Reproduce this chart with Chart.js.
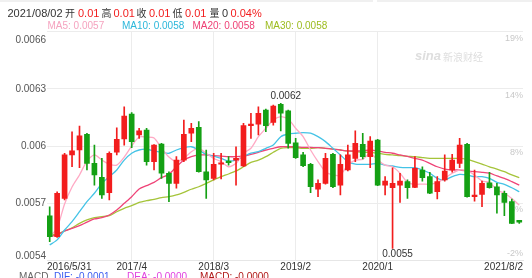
<!DOCTYPE html>
<html>
<head>
<meta charset="utf-8">
<script src="https://cdn.jsdelivr.net/npm/chart.js@4.4.0/dist/chart.umd.min.js"></script>
<style>
  html, body { margin: 0; padding: 0; background: #fff; overflow: hidden; }
  #wrap { position: relative; width: 532px; height: 278px; overflow: hidden; font-family: 'Liberation Sans', 'Noto Sans CJK SC', sans-serif; }
  #wrap canvas { position: absolute; left: 0; top: 0; }
  .t { position: absolute; white-space: nowrap; }
  .bar { position: absolute; top: 0; height: 2px; background: #f0f0f0; }
</style>
</head>
<body>
<div id="wrap">
  <canvas id="kline" width="532" height="278"></canvas>
  <div class="bar" style="left:0;width:373px"></div>
  <div class="bar" style="left:377px;width:155px"></div>
  <div id="head"></div>
</div>
<script>
// 月K数据 2016/5 - 2021/8
const candleOpen = [0.005634, 0.005524, 0.005725, 0.005953, 0.005979, 0.006061, 0.005909, 0.005836, 0.005755, 0.005967,
  0.006037, 0.006168, 0.006058, 0.006084, 0.005918, 0.006010, 0.005857, 0.005804, 0.005926, 0.006067,
  0.006098, 0.005865, 0.005830, 0.005904, 0.005921, 0.005926, 0.005895, 0.006107, 0.006114, 0.006189,
  0.006124, 0.006219, 0.006184, 0.006017, 0.005953, 0.005904, 0.005774, 0.005804, 0.005956, 0.005795,
  0.005874, 0.005935, 0.006009, 0.005944, 0.006031, 0.005795, 0.005781, 0.005795, 0.005813, 0.005783,
  0.005874, 0.005839, 0.005760, 0.005822, 0.005874, 0.005909, 0.006009, 0.005734, 0.005746, 0.005807,
  0.005786, 0.005752, 0.005708, 0.005610];
const candleHigh = [0.005681, 0.005760, 0.005962, 0.006075, 0.006105, 0.006067, 0.006005, 0.005935, 0.005970, 0.006096,
  0.006206, 0.006175, 0.006093, 0.006093, 0.006008, 0.006014, 0.005865, 0.005944, 0.006136, 0.006119,
  0.006128, 0.005979, 0.005962, 0.005962, 0.005944, 0.005996, 0.006119, 0.006172, 0.006206, 0.006194,
  0.006215, 0.006224, 0.006189, 0.006040, 0.005967, 0.005909, 0.005822, 0.005962, 0.005962, 0.005953,
  0.006005, 0.006079, 0.006067, 0.006049, 0.006035, 0.005839, 0.005886, 0.005857, 0.005822, 0.005944,
  0.005891, 0.005862, 0.005839, 0.005953, 0.005956, 0.006040, 0.006014, 0.005874, 0.005816, 0.005862,
  0.005804, 0.005764, 0.005722, 0.005610];
const candleLow = [0.005498, 0.005520, 0.005717, 0.005891, 0.005886, 0.005874, 0.005795, 0.005725, 0.005717, 0.005953,
  0.006005, 0.005991, 0.006040, 0.005900, 0.005874, 0.005830, 0.005708, 0.005778, 0.005918, 0.006023,
  0.005862, 0.005725, 0.005822, 0.005827, 0.005900, 0.005795, 0.005891, 0.006040, 0.006058, 0.006075,
  0.006110, 0.006079, 0.005988, 0.005935, 0.005891, 0.005755, 0.005734, 0.005799, 0.005781, 0.005743,
  0.005869, 0.005918, 0.005932, 0.005886, 0.005792, 0.005743, 0.005463, 0.005704, 0.005725, 0.005781,
  0.005816, 0.005750, 0.005722, 0.005816, 0.005862, 0.005886, 0.005732, 0.005711, 0.005681, 0.005778,
  0.005647, 0.005634, 0.005592, 0.005594];
const candleClose = [0.005524, 0.005752, 0.005953, 0.005974, 0.006054, 0.005909, 0.005848, 0.005743, 0.005962, 0.006035,
  0.006157, 0.006023, 0.006079, 0.005918, 0.006005, 0.005857, 0.005804, 0.005926, 0.006061, 0.006093,
  0.005865, 0.005822, 0.005904, 0.005912, 0.005912, 0.005935, 0.006107, 0.006115, 0.006172, 0.006107,
  0.006210, 0.006172, 0.006014, 0.005939, 0.005897, 0.005786, 0.005804, 0.005935, 0.005786, 0.005904,
  0.005953, 0.006014, 0.005944, 0.006026, 0.005795, 0.005816, 0.005804, 0.005816, 0.005781, 0.005883,
  0.005834, 0.005752, 0.005813, 0.005869, 0.005926, 0.006005, 0.005734, 0.005743, 0.005804, 0.005781,
  0.005743, 0.005704, 0.005594, 0.005600];

const ma5 = [0.005522, 0.005570, 0.005696, 0.005785, 0.005848, 0.005921, 0.005953, 0.005926, 0.005905, 0.005900,
  0.005942, 0.006000, 0.006047, 0.006047, 0.006042, 0.005989, 0.005942, 0.005918, 0.005935, 0.005970,
  0.005988, 0.005962, 0.005935, 0.005918, 0.005891, 0.005909, 0.005962, 0.005988, 0.006049, 0.006093,
  0.006136, 0.006154, 0.006142, 0.006093, 0.006049, 0.005979, 0.005918, 0.005865, 0.005848, 0.005848,
  0.005900, 0.005926, 0.005930, 0.005962, 0.005926, 0.005900, 0.005891, 0.005857, 0.005809, 0.005799,
  0.005800, 0.005799, 0.005809, 0.005830, 0.005857, 0.005874, 0.005869, 0.005848, 0.005816, 0.005809,
  0.005769, 0.005752, 0.005725, 0.005690];
const ma10 = [0.005480, 0.005507, 0.005559, 0.005603, 0.005655, 0.005708, 0.005752, 0.005804, 0.005839, 0.005874,
  0.005926, 0.005962, 0.005979, 0.005983, 0.005974, 0.005967, 0.005962, 0.005979, 0.005991, 0.005996,
  0.005979, 0.005956, 0.005947, 0.005935, 0.005921, 0.005926, 0.005944, 0.005962, 0.005970, 0.005988,
  0.006005, 0.006049, 0.006063, 0.006067, 0.006070, 0.006067, 0.006049, 0.006023, 0.005988, 0.005953,
  0.005918, 0.005905, 0.005904, 0.005904, 0.005909, 0.005900, 0.005895, 0.005888, 0.005886, 0.005886,
  0.005874, 0.005857, 0.005830, 0.005822, 0.005839, 0.005851, 0.005848, 0.005839, 0.005839, 0.005830,
  0.005809, 0.005799, 0.005781, 0.005760];
const ma20 = [0.005525, 0.005533, 0.005554, 0.005568, 0.005582, 0.005600, 0.005617, 0.005624, 0.005638, 0.005664,
  0.005699, 0.005734, 0.005774, 0.005792, 0.005809, 0.005834, 0.005851, 0.005891, 0.005926, 0.005944,
  0.005953, 0.005953, 0.005949, 0.005947, 0.005944, 0.005944, 0.005947, 0.005956, 0.005967, 0.005979,
  0.005988, 0.005996, 0.005996, 0.005996, 0.005993, 0.005993, 0.005991, 0.005988, 0.005984, 0.005979,
  0.005974, 0.005974, 0.005974, 0.005979, 0.005974, 0.005967, 0.005962, 0.005953, 0.005945, 0.005935,
  0.005926, 0.005909, 0.005891, 0.005879, 0.005874, 0.005874, 0.005869, 0.005865, 0.005862, 0.005857,
  0.005843, 0.005830, 0.005813, 0.005795];
const ma30 = [0.005533, 0.005537, 0.005554, 0.005571, 0.005594, 0.005612, 0.005624, 0.005629, 0.005634, 0.005655,
  0.005673, 0.005687, 0.005704, 0.005713, 0.005720, 0.005729, 0.005734, 0.005743, 0.005757, 0.005773,
  0.005786, 0.005804, 0.005822, 0.005839, 0.005853, 0.005869, 0.005891, 0.005914, 0.005926, 0.005944,
  0.005967, 0.005988, 0.005992, 0.005991, 0.005988, 0.005988, 0.005991, 0.005988, 0.005984, 0.005979,
  0.005974, 0.005970, 0.005967, 0.005967, 0.005962, 0.005956, 0.005953, 0.005949, 0.005946, 0.005944,
  0.005939, 0.005935, 0.005935, 0.005935, 0.005935, 0.005935, 0.005930, 0.005918, 0.005905, 0.005891,
  0.005879, 0.005865, 0.005848, 0.005834];

// 坐标轴刻度
const xTickIndex = [0, 11, 22, 33, 44, 63];
const xTickLabels = ['2016/5/31', '2017/4', '2018/3', '2019/2', '2020/1', '2021/8/2'];
const yTickValues = [0.0054, 0.0057, 0.006, 0.0063, 0.0066];
const yTickLabels = ['0.0054', '0.0057', '0.006', '0.0063', '0.0066'];
const pctTickLabels = ['-2%', '3%', '8%', '14%', '19%'];

const RED = '#f21d1d';
const GREEN = '#14a014';
const maColors = ['#ffa9c4', '#44c3e6', '#ef4478', '#a5c43a'];
const maTextColors = ['#f5a3bf', '#2bb7da', '#ee3f74', '#9cbc1f'];

// 顶部信息栏
const last = candleClose.length - 1;
const headItems = [
    ['2021/08/02', 7.5, '#333', 11], ['开', 65, '#333', 10], [candleOpen[last].toFixed(2), 78, RED, 11],
    ['高', 101.5, '#333', 10], [candleHigh[last].toFixed(2), 113.5, RED, 11],
    ['收', 136.5, '#333', 10], [candleClose[last].toFixed(2), 149, RED, 11],
    ['低', 172.5, '#333', 10], [candleLow[last].toFixed(2), 185, RED, 11],
    ['量', 209.5, '#333', 10], ['0', 222, '#333', 11], ['0.04%', 230.5, RED, 11]
];
const maItems = [
    ['MA5: ' + ma5[last].toFixed(4), 47.5], ['MA10: ' + ma10[last].toFixed(4), 122],
    ['MA20: ' + ma20[last].toFixed(4), 192.5], ['MA30: ' + ma30[last].toFixed(4), 265]
];
const macdItems = [
    ['MACD', 19, '#666'], ['DIF: -0.0001', 54, '#3a5cf0'],
    ['DEA: -0.0000', 127, '#e040e0'], ['MACD: -0.0000', 200, '#b01818']
];

const head = document.getElementById('head');
function addText(text, left, top, color, size) {
    const el = document.createElement('div');
    el.className = 't';
    el.textContent = text;
    el.style.cssText = 'left:' + left + 'px;top:' + top + 'px;color:' + color + ';font-size:' + size + 'px;line-height:' + size + 'px';
    head.appendChild(el);
}
headItems.forEach(it => addText(it[0], it[1], it[3] === 11 ? 8.2 : 8.7, it[2], it[3]));
maItems.forEach((it, i) => addText(it[0], it[1], 20.5, maTextColors[i], 10));
macdItems.forEach(it => addText(it[0], it[1], 272, it[2], 10));

Chart.defaults.font.family = "'Liberation Sans', 'Noto Sans CJK SC', sans-serif";

// 最高/最低价标注
const extremesPlugin = {
    id: 'extremes',
    afterDatasetsDraw(chart) {
        const { ctx } = chart;
        const x = chart.scales.x, y = chart.scales.y;
        let hi = 0, lo = 0;
        candleHigh.forEach((v, i) => { if (v > candleHigh[hi]) hi = i; });
        candleLow.forEach((v, i) => { if (v < candleLow[lo]) lo = i; });
        ctx.save();
        ctx.font = "10px 'Liberation Sans', sans-serif";
        ctx.fillStyle = '#333';
        ctx.textAlign = 'center';
        ctx.textBaseline = 'middle';
        ctx.fillText(candleHigh[hi].toFixed(4), x.getPixelForValue(hi) + 5, y.getPixelForValue(candleHigh[hi]) - 7);
        ctx.fillText(candleLow[lo].toFixed(4), x.getPixelForValue(lo) + 5, y.getPixelForValue(candleLow[lo]) + 6);
        ctx.restore();
    }
};

// 水印
const watermarkPlugin = {
    id: 'watermark',
    beforeDatasetsDraw(chart) {
        const { ctx } = chart;
        ctx.save();
        ctx.fillStyle = '#dedede';
        ctx.textBaseline = 'middle';
        ctx.font = "italic bold 13px 'Liberation Sans', sans-serif";
        ctx.fillText('sina', 415, 56);
        ctx.font = "10px 'Noto Sans CJK SC', sans-serif";
        ctx.fillText('新浪财经', 443, 57);
        ctx.restore();
    }
};

const candleColor = ctx => candleClose[ctx.dataIndex] >= candleOpen[ctx.dataIndex] ? RED : GREEN;
const bodies = candleOpen.map((o, i) => ({ x: i, y: [o, candleClose[i]] }));
const wicks = candleLow.map((l, i) => ({ x: i, y: [l, candleHigh[i]] }));
const maSeries = [ma5, ma10, ma20, ma30];
const maLabels = ['MA5', 'MA10', 'MA20', 'MA30'];

function shiftLabel(label, i, n) {
    if (i === n - 1) return ['', '', label];
    if (i === 0) return [label, ''];
    return label;
}

new Chart(document.getElementById('kline').getContext('2d'), {
    type: 'bar',
    data: {
        datasets: [
            {
                label: 'body',
                data: bodies,
                backgroundColor: candleColor,
                borderWidth: 0,
                barThickness: 5,
                minBarLength: 1,
                grouped: false
            },
            {
                label: 'wick',
                data: wicks,
                backgroundColor: candleColor,
                borderWidth: 0,
                barThickness: 1,
                grouped: false
            }
        ].concat(maSeries.map((s, k) => ({
            type: 'line',
            label: maLabels[k],
            data: s.map((v, i) => ({ x: i, y: v })),
            borderColor: maColors[k],
            borderWidth: 1.3,
            pointRadius: 0,
            tension: 0.25,
            fill: false
        })))
    },
    options: {
        responsive: false,
        animation: false,
        layout: { padding: { top: 31.7, left: 0, right: 0, bottom: 0 } },
        plugins: {
            legend: { display: false },
            tooltip: { enabled: false },
            title: { display: false }
        },
        scales: {
            x: {
                type: 'linear',
                min: -0.36,
                max: 63.5,
                offset: false,
                afterBuildTicks: scale => {
                    scale.ticks = xTickIndex.map((v, i) => ({
                        value: i === 0 ? scale.min : (i === xTickIndex.length - 1 ? scale.max : v)
                    }));
                },
                afterFit: scale => { scale.height = 17.7; },
                grid: {
                    offset: false,
                    drawTicks: false,
                    color: ctx => (ctx.index > 0 && ctx.index < xTickLabels.length - 1) ? '#ececec' : 'rgba(0,0,0,0)'
                },
                border: { color: '#e6e6e6' },
                ticks: {
                    align: 'inner',
                    autoSkip: false,
                    maxRotation: 0,
                    padding: 1,
                    color: '#333',
                    font: { size: 10 },
                    callback: (v, i) => xTickLabels[i]
                }
            },
            y: {
                type: 'linear',
                position: 'left',
                min: 0.0054,
                max: 0.0066,
                beginAtZero: false,
                afterBuildTicks: scale => { scale.ticks = yTickValues.map(v => ({ value: v })); },
                afterFit: scale => { scale.width = 47; },
                grid: { color: '#ececec', drawTicks: false },
                border: { display: false },
                ticks: {
                    padding: 1,
                    color: '#555',
                    font: { size: 10, lineHeight: 0.9 },
                    callback: (v, i) => shiftLabel(yTickLabels[i], i, yTickLabels.length)
                }
            },
            y2: {
                type: 'linear',
                position: 'right',
                min: 0.0054,
                max: 0.0066,
                afterBuildTicks: scale => { scale.ticks = yTickValues.map(v => ({ value: v })); },
                afterFit: scale => { scale.width = 9; },
                grid: { display: false, drawTicks: false },
                border: { display: false },
                ticks: {
                    mirror: true,
                    padding: 0,
                    color: '#c8c8c8',
                    font: { size: 9, lineHeight: 0.75 },
                    callback: (v, i) => i === 0 ? [pctTickLabels[i], '', ''] : ['', '', pctTickLabels[i]]
                }
            }
        }
    },
    plugins: [watermarkPlugin, extremesPlugin]
});
</script>
</body>
</html>
